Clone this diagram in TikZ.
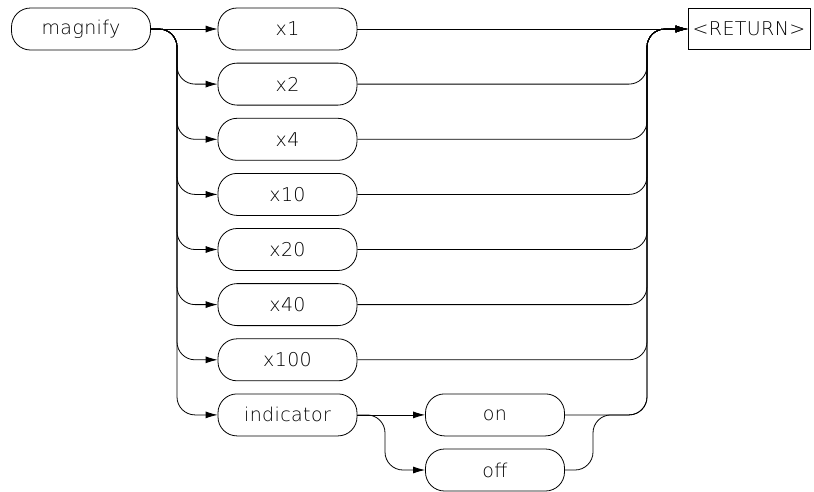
\documentclass[tikz,border=0pt]{standalone}
\usepackage{fontspec}
\setmainfont{DejaVu Sans ExtraLight}[LetterSpace=2]
\usetikzlibrary{arrows.meta}
\begin{document}
\begin{tikzpicture}[x=1pt,y=-1pt,
  every node/.style={font=\fontsize{19}{22}\selectfont, line width=0.8pt, inner sep=0pt},
  box/.style={draw, rounded corners=19pt, minimum width=139pt, minimum height=42pt},
  term/.style={draw, minimum width=122pt, minimum height=41pt},
  conn/.style={line width=0.8pt, rounded corners=18pt},
  arr/.style={-{Latex[length=12pt,width=7pt]}}
]
\useasboundingbox (0,0) rectangle (814,491);
\node[box] (mag) at (81,29) {magnify};
\node[box] (r1) at (287.5,29) {x1};
\node[box] (r2) at (287.5,84.1) {x2};
\node[box] (r3) at (287.5,139.3) {x4};
\node[box] (r4) at (287.5,194.4) {x10};
\node[box] (r5) at (287.5,249.5) {x20};
\node[box] (r6) at (287.5,304.6) {x40};
\node[box] (r7) at (287.5,359.8) {x100};
\node[box] (ind) at (287.5,414.9) {indicator};
\node[box] (on) at (495,414.9) {on};
\node[box] (off) at (495,470) {off};
\node[term] (ret) at (749,29) {<RETURN>};
\coordinate (lb) at (177,0);
\coordinate (rb) at (647,0);
\coordinate (ib) at (385,0);
\coordinate (ob) at (593,0);
% left bus
\draw[conn,arr] (mag.east) -- (r1.west);
\foreach \n in {r2,r3,r4,r5,r6,r7,ind}{
  \draw[conn,arr] (mag.east) -- (mag.east -| lb) -- (\n.west -| lb) -- (\n.west);
}
% right bus
\draw[conn,arr] (r1.east) -- (ret.west);
\foreach \n in {r2,r3,r4,r5,r6,r7}{
  \draw[conn,arr] (\n.east) -- (\n.east -| rb) -- (r1.east -| rb) -- (ret.west);
}
% indicator branch
\draw[conn,arr] (ind.east) -- (on.west);
\draw[conn,arr] (ind.east) -- (ind.east -| ib) -- (off.west -| ib) -- (off.west);
\draw[conn,arr] (on.east) -- (on.east -| rb) -- (r1.east -| rb) -- (ret.west);
\draw[conn,arr] (off.east) -- (off.east -| ob) -- (on.east -| ob) -- (on.east -| rb) -- (r1.east -| rb) -- (ret.west);
\end{tikzpicture}
\end{document}
